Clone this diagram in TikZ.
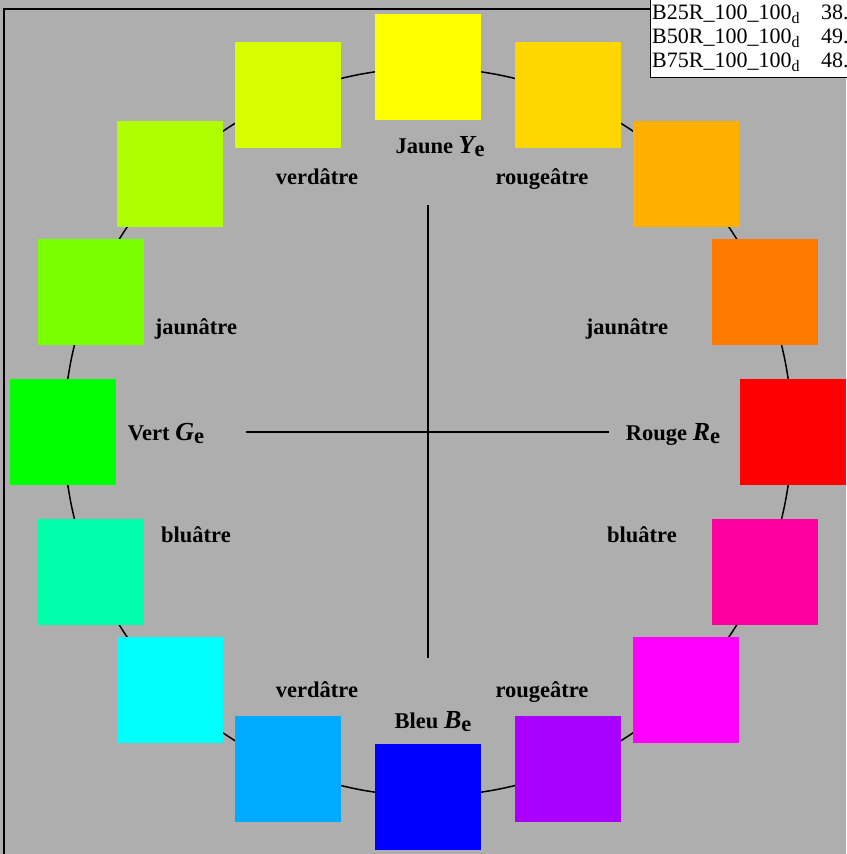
\documentclass[tikz,border=0pt]{standalone}
\usepackage{fontspec}
\setmainfont{Liberation Serif}
\definecolor{bggray}{RGB}{174,174,174}
\definecolor{hue0}{RGB}{255,255,0}
\definecolor{hue1}{RGB}{255,215,0}
\definecolor{hue2}{RGB}{255,175,0}
\definecolor{hue3}{RGB}{255,120,0}
\definecolor{hue4}{RGB}{255,0,0}
\definecolor{hue5}{RGB}{255,0,160}
\definecolor{hue6}{RGB}{255,0,255}
\definecolor{hue7}{RGB}{170,0,255}
\definecolor{hue8}{RGB}{0,0,255}
\definecolor{hue9}{RGB}{0,170,255}
\definecolor{hue10}{RGB}{0,255,255}
\definecolor{hue11}{RGB}{0,255,170}
\definecolor{hue12}{RGB}{0,255,0}
\definecolor{hue13}{RGB}{120,255,0}
\definecolor{hue14}{RGB}{175,255,0}
\definecolor{hue15}{RGB}{215,255,0}
\newcommand\huename[1]{{\fontsize{26}{26}\selectfont\itshape #1}\raisebox{-.35ex}{e}}
\newcommand\tabsub[1]{\raisebox{-.4ex}{\fontsize{16}{16}\selectfont #1}}
\begin{document}
\begin{tikzpicture}[x=1pt,y=-1pt,
    patch/.style={minimum size=106pt,inner sep=0pt,outer sep=0pt},
    lab/.style={font=\fontsize{22.5}{26}\selectfont\bfseries,inner sep=0pt,anchor=base},
    row/.style={font=\fontsize{22}{24}\selectfont,inner sep=0pt,anchor=base west}]
  \useasboundingbox (0,0) rectangle (846,854);
  \fill[bggray] (0,0) rectangle (846,854);
  \draw[line width=1.5pt] (428,432) circle[radius=364pt];
  % axes
  \coordinate (hl) at (246,432);
  \coordinate (hr) at (609,432);
  \coordinate (vt) at (428,205);
  \coordinate (vb) at (428,658);
  \draw[line width=1.5pt] (hl)--(hr);
  \draw[line width=1.5pt] (vt)--(vb);
  % hue patches
  \foreach \i in {0,...,15}
    \node[patch,fill=hue\i] (p\i) at ({428+365*sin(22.5*\i)},{432-365*cos(22.5*\i)}) {};
  % labels
  \node[lab] (ye) at (440,153) {Jaune \huename{Y}};
  \node[lab] (re) at (673,440) {Rouge \huename{R}};
  \node[lab] (ge) at (166,440) {Vert \huename{G}};
  \node[lab] (be) at (433,728) {Bleu \huename{B}};
  \node[lab] (vt1) at (317,184) {verdâtre};
  \node[lab] (rg1) at (542,184) {rougeâtre};
  \node[lab] (ja1) at (196,334) {jaunâtre};
  \node[lab] (ja2) at (627,334) {jaunâtre};
  \node[lab] (bl1) at (196,542) {bluâtre};
  \node[lab] (bl2) at (642,542) {bluâtre};
  \node[lab] (vt2) at (317,697) {verdâtre};
  \node[lab] (rg2) at (542,697) {rougeâtre};
  % frame and table
  \draw[line width=2pt] (4,870)--(4,9)--(650,9);
  \draw[fill=white,line width=1pt] (650,-5) rectangle (870,77);
  \node[row] (r1) at (652,19) {B25R\_100\_100\tabsub{d}};
  \node[row] (r2) at (652,43) {B50R\_100\_100\tabsub{d}};
  \node[row] (r3) at (652,67) {B75R\_100\_100\tabsub{d}};
  \node[row] (n1) at (821,19) {38.};
  \node[row] (n2) at (821,43) {49.};
  \node[row] (n3) at (821,67) {48.};
\end{tikzpicture}
\end{document}
